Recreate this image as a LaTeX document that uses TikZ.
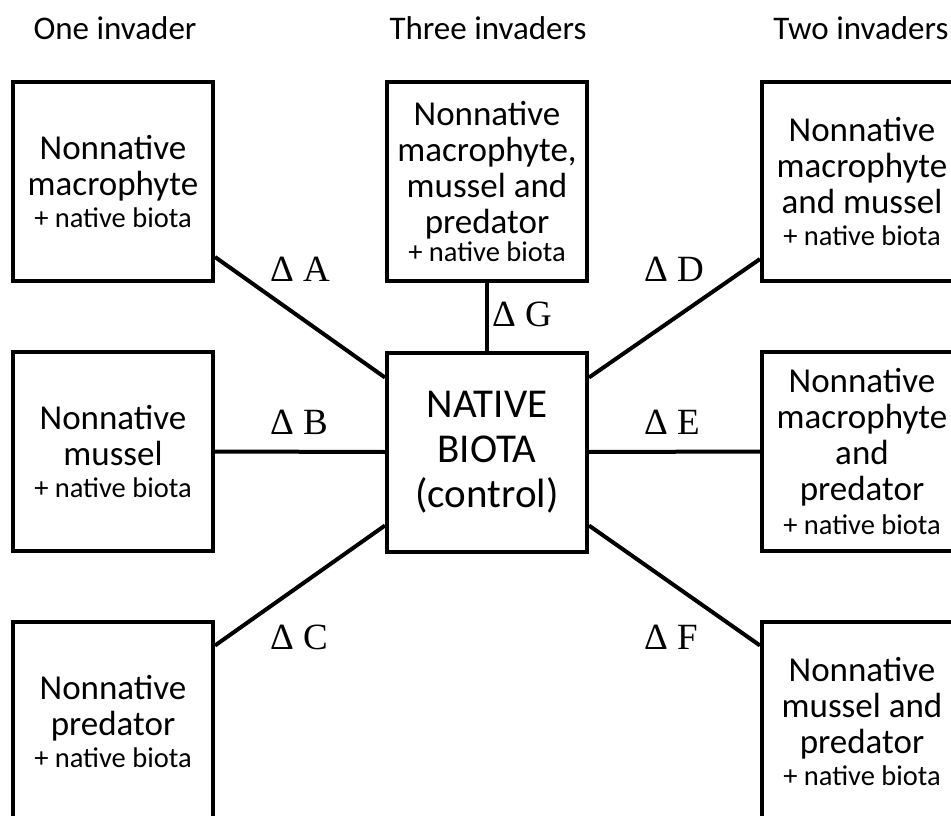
\documentclass[tikz,border=0pt]{standalone}
\usepackage{fontspec}
\setmainfont{Carlito}
\newfontfamily\deltafont{Liberation Serif}
\begin{document}
\begin{tikzpicture}[x=1pt,y=-1pt,
  treatbox/.style={draw, line width=4pt, minimum width=200pt, minimum height=199pt,
    inner sep=0pt, align=center, font=\fontsize{35}{36}\selectfont},
  ctrlbox/.style={treatbox, font=\fontsize{41}{45}\selectfont},
  header/.style={anchor=base, inner sep=0pt, font=\fontsize{33}{36}\selectfont},
  dlabel/.style={anchor=base west, inner sep=0pt, font=\deltafont\fontsize{37}{40}\selectfont},
  link/.style={line width=4pt}]
\useasboundingbox (0,0) rectangle (951,816);
\newcommand{\nb}{\fontsize{28.5}{36}\selectfont + native biota}

\node[header] (h1) at (115,40) {One invader};
\node[header] (h3) at (488,40) {Three invaders};
\node[header] (h2) at (861,40) {Two invaders};

\node[treatbox] (A) at (113,181.5) {Nonnative\\macrophyte\\[-4pt]\nb};
\node[treatbox] (B) at (113,451.5) {Nonnative\\mussel\\[-4pt]\nb};
\node[treatbox] (C) at (113,721) {Nonnative\\predator\\[-4pt]\nb};
\node[treatbox] (G) at (487,181.5) {Nonnative\\macrophyte,\\mussel and\\predator\\[-8pt]\nb};
\node[ctrlbox] (N) at (487,452) {NATIVE\\BIOTA\\(control)};
\node[treatbox] (D) at (862,181.5) {Nonnative\\macrophyte\\and mussel\\[-4pt]\nb};
\node[treatbox] (E) at (862,451.5) {Nonnative\\macrophyte\\and\\predator\\[-2pt]\nb};
\node[treatbox] (F) at (862,721) {Nonnative\\mussel and\\predator\\[-4pt]\nb};

\draw[link] ([yshift=26pt]A.south east) -- ([yshift=-27pt]N.north west);
\draw[link] (B.east) -- (N.west);
\draw[link] ([yshift=-26pt]C.north east) -- ([yshift=28pt]N.south west);
\draw[link] (G.south) -- (N.north);
\draw[link] ([yshift=-27pt]N.north east) -- ([yshift=24pt]D.south west);
\draw[link] (N.east) -- (E.west);
\draw[link] ([yshift=28pt]N.south east) -- ([yshift=-26pt]F.north west);

\node[dlabel] (lA) at (270,281) {Δ A};
\node[dlabel] (lB) at (270,434) {Δ B};
\node[dlabel] (lC) at (270,649) {Δ C};
\node[dlabel] (lG) at (492,326) {Δ G};
\node[dlabel] (lD) at (644,281) {Δ D};
\node[dlabel] (lE) at (644,434) {Δ E};
\node[dlabel] (lF) at (644,649) {Δ F};
\end{tikzpicture}
\end{document}
